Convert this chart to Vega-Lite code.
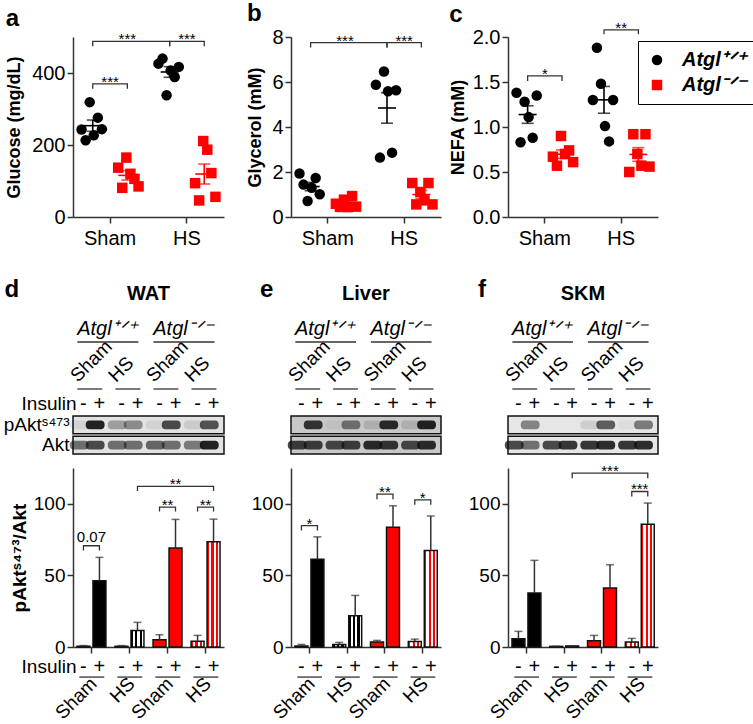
{
"$schema": "https://vega.github.io/schema/vega-lite/v6.json",
"padding": {"left": 3, "top": 2, "right": 0, "bottom": 0},
"config": {
  "font": "Liberation Sans",
  "view": {"stroke": null},
  "axis": {"domainColor": "#333", "domainWidth": 1.5, "tickColor": "#333", "tickWidth": 1.5, "tickSize": 6, "labelColor": "#000", "labelFontSize": 20, "labelPadding": 2, "titleFontSize": 18, "titleFontWeight": "bold", "titleColor": "#000", "grid": false, "labelFont": "Liberation Sans", "titleFont": "Liberation Sans"},
  "text": {"font": "Liberation Sans", "color": "#000"},
  "title": {"font": "Liberation Sans", "color": "#000"}
},
"datasets": {
  "pts": [
    {"p":"a","cond":"Sham","geno":"WT","aid":"WT1","v":243},{"p":"a","cond":"Sham","geno":"WT","aid":"WT2","v":213},{"p":"a","cond":"Sham","geno":"WT","aid":"WT3","v":319},{"p":"a","cond":"Sham","geno":"WT","aid":"WT4","v":227},{"p":"a","cond":"Sham","geno":"WT","aid":"WT5","v":276},{"p":"a","cond":"Sham","geno":"WT","aid":"WT6","v":244},
    {"p":"a","cond":"Sham","geno":"KO","aid":"KO1","v":137},{"p":"a","cond":"Sham","geno":"KO","aid":"KO2","v":81},{"p":"a","cond":"Sham","geno":"KO","aid":"KO3","v":165},{"p":"a","cond":"Sham","geno":"KO","aid":"KO4","v":120},{"p":"a","cond":"Sham","geno":"KO","aid":"KO5","v":106},{"p":"a","cond":"Sham","geno":"KO","aid":"KO6","v":85},
    {"p":"a","cond":"HS","geno":"WT","aid":"WT1","v":426},{"p":"a","cond":"HS","geno":"WT","aid":"WT2","v":440},{"p":"a","cond":"HS","geno":"WT","aid":"WT3","v":338},{"p":"a","cond":"HS","geno":"WT","aid":"WT4","v":407},{"p":"a","cond":"HS","geno":"WT","aid":"WT5","v":389},{"p":"a","cond":"HS","geno":"WT","aid":"WT6","v":417},
    {"p":"a","cond":"HS","geno":"KO","aid":"KO1","v":94},{"p":"a","cond":"HS","geno":"KO","aid":"KO2","v":46},{"p":"a","cond":"HS","geno":"KO","aid":"KO3","v":211},{"p":"a","cond":"HS","geno":"KO","aid":"KO4","v":187},{"p":"a","cond":"HS","geno":"KO","aid":"KO5","v":122},{"p":"a","cond":"HS","geno":"KO","aid":"KO6","v":56},
    {"p":"b","cond":"Sham","geno":"WT","aid":"WT1","v":1.93},{"p":"b","cond":"Sham","geno":"WT","aid":"WT2","v":1.44},{"p":"b","cond":"Sham","geno":"WT","aid":"WT3","v":0.71},{"p":"b","cond":"Sham","geno":"WT","aid":"WT4","v":1.30},{"p":"b","cond":"Sham","geno":"WT","aid":"WT5","v":1.73},{"p":"b","cond":"Sham","geno":"WT","aid":"WT6","v":1.01},
    {"p":"b","cond":"Sham","geno":"KO","aid":"KO1","v":0.59},{"p":"b","cond":"Sham","geno":"KO","aid":"KO2","v":0.45},{"p":"b","cond":"Sham","geno":"KO","aid":"KO3","v":0.77},{"p":"b","cond":"Sham","geno":"KO","aid":"KO4","v":0.44},{"p":"b","cond":"Sham","geno":"KO","aid":"KO5","v":0.93},{"p":"b","cond":"Sham","geno":"KO","aid":"KO6","v":0.46},
    {"p":"b","cond":"HS","geno":"WT","aid":"WT1","v":5.88},{"p":"b","cond":"HS","geno":"WT","aid":"WT2","v":2.64},{"p":"b","cond":"HS","geno":"WT","aid":"WT3","v":6.47},{"p":"b","cond":"HS","geno":"WT","aid":"WT4","v":5.59},{"p":"b","cond":"HS","geno":"WT","aid":"WT5","v":2.86},{"p":"b","cond":"HS","geno":"WT","aid":"WT6","v":5.63},
    {"p":"b","cond":"HS","geno":"KO","aid":"KO1","v":1.51},{"p":"b","cond":"HS","geno":"KO","aid":"KO2","v":0.56},{"p":"b","cond":"HS","geno":"KO","aid":"KO3","v":1.11},{"p":"b","cond":"HS","geno":"KO","aid":"KO4","v":0.74},{"p":"b","cond":"HS","geno":"KO","aid":"KO5","v":1.51},{"p":"b","cond":"HS","geno":"KO","aid":"KO6","v":0.56},
    {"p":"c","cond":"Sham","geno":"WT","aid":"WT1","v":1.38},{"p":"c","cond":"Sham","geno":"WT","aid":"WT2","v":0.83},{"p":"c","cond":"Sham","geno":"WT","aid":"WT3","v":1.28},{"p":"c","cond":"Sham","geno":"WT","aid":"WT4","v":1.11},{"p":"c","cond":"Sham","geno":"WT","aid":"WT5","v":0.88},{"p":"c","cond":"Sham","geno":"WT","aid":"WT6","v":1.35},
    {"p":"c","cond":"Sham","geno":"KO","aid":"KO1","v":0.67},{"p":"c","cond":"Sham","geno":"KO","aid":"KO2","v":0.57},{"p":"c","cond":"Sham","geno":"KO","aid":"KO3","v":0.90},{"p":"c","cond":"Sham","geno":"KO","aid":"KO4","v":0.70},{"p":"c","cond":"Sham","geno":"KO","aid":"KO5","v":0.74},{"p":"c","cond":"Sham","geno":"KO","aid":"KO6","v":0.61},
    {"p":"c","cond":"HS","geno":"WT","aid":"WT1","v":1.30},{"p":"c","cond":"HS","geno":"WT","aid":"WT2","v":1.88},{"p":"c","cond":"HS","geno":"WT","aid":"WT3","v":1.48},{"p":"c","cond":"HS","geno":"WT","aid":"WT4","v":1.01},{"p":"c","cond":"HS","geno":"WT","aid":"WT5","v":0.84},{"p":"c","cond":"HS","geno":"WT","aid":"WT6","v":1.30},
    {"p":"c","cond":"HS","geno":"KO","aid":"KO1","v":0.50},{"p":"c","cond":"HS","geno":"KO","aid":"KO2","v":0.92},{"p":"c","cond":"HS","geno":"KO","aid":"KO3","v":0.70},{"p":"c","cond":"HS","geno":"KO","aid":"KO4","v":0.57},{"p":"c","cond":"HS","geno":"KO","aid":"KO5","v":0.92},{"p":"c","cond":"HS","geno":"KO","aid":"KO6","v":0.56}
  ],
  "tbrk": [
    {"p":"a","id":"a1","cond":"Sham","geno":"WT","y":474,"o":1},{"p":"a","id":"a1","cond":"Sham","geno":"WT","y":488,"o":2},{"p":"a","id":"a1","cond":"HS","geno":"WT","y":488,"o":3},{"p":"a","id":"a1","cond":"HS","geno":"WT","y":474,"o":4},
    {"p":"a","id":"a2","cond":"HS","geno":"WT","y":474,"o":1},{"p":"a","id":"a2","cond":"HS","geno":"WT","y":488,"o":2},{"p":"a","id":"a2","cond":"HS","geno":"KO","y":488,"o":3},{"p":"a","id":"a2","cond":"HS","geno":"KO","y":474,"o":4},
    {"p":"a","id":"a3","cond":"Sham","geno":"WT","y":356,"o":1},{"p":"a","id":"a3","cond":"Sham","geno":"WT","y":370,"o":2},{"p":"a","id":"a3","cond":"Sham","geno":"KO","y":370,"o":3},{"p":"a","id":"a3","cond":"Sham","geno":"KO","y":356,"o":4},
    {"p":"b","id":"b1","cond":"Sham","geno":"WT","y":7.53,"o":1},{"p":"b","id":"b1","cond":"Sham","geno":"WT","y":7.75,"o":2},{"p":"b","id":"b1","cond":"HS","geno":"WT","y":7.75,"o":3},{"p":"b","id":"b1","cond":"HS","geno":"WT","y":7.53,"o":4},
    {"p":"b","id":"b2","cond":"HS","geno":"WT","y":7.53,"o":1},{"p":"b","id":"b2","cond":"HS","geno":"WT","y":7.75,"o":2},{"p":"b","id":"b2","cond":"HS","geno":"KO","y":7.75,"o":3},{"p":"b","id":"b2","cond":"HS","geno":"KO","y":7.53,"o":4},
    {"p":"c","id":"c1","cond":"Sham","geno":"WT","y":1.51,"o":1},{"p":"c","id":"c1","cond":"Sham","geno":"WT","y":1.567,"o":2},{"p":"c","id":"c1","cond":"Sham","geno":"KO","y":1.567,"o":3},{"p":"c","id":"c1","cond":"Sham","geno":"KO","y":1.51,"o":4},
    {"p":"c","id":"c2","cond":"HS","geno":"WT","y":2.03,"o":1},{"p":"c","id":"c2","cond":"HS","geno":"WT","y":2.08,"o":2},{"p":"c","id":"c2","cond":"HS","geno":"KO","y":2.08,"o":3},{"p":"c","id":"c2","cond":"HS","geno":"KO","y":2.03,"o":4}
  ],
  "tsig": [
    {"p":"a","k":"o","cond":"Sham","geno":"KO","y":488,"t":"***"},{"p":"a","k":"c","cond":"HS","y":488,"t":"***"},{"p":"a","k":"c","cond":"Sham","y":370,"t":"***"},
    {"p":"b","k":"o","cond":"Sham","geno":"KO","y":7.75,"t":"***"},{"p":"b","k":"c","cond":"HS","y":7.75,"t":"***"},
    {"p":"c","k":"c","cond":"Sham","y":1.567,"t":"*"},{"p":"c","k":"c","cond":"HS","y":2.08,"t":"**"}
  ],
  "bars": [
    {"p":"d","grp":"WT Sham","ins":"-","m":0.5,"hi":1.0},{"p":"d","grp":"WT Sham","ins":"+","m":46.3,"hi":62.6},{"p":"d","grp":"WT HS","ins":"-","m":0.5,"hi":1.0},{"p":"d","grp":"WT HS","ins":"+","m":11.6,"hi":17.2},
    {"p":"d","grp":"KO Sham","ins":"-","m":5.1,"hi":8.6},{"p":"d","grp":"KO Sham","ins":"+","m":69.1,"hi":89.1},{"p":"d","grp":"KO HS","ins":"-","m":4.0,"hi":8.1},{"p":"d","grp":"KO HS","ins":"+","m":73.5,"hi":89.3},
    {"p":"e","grp":"WT Sham","ins":"-","m":0.7,"hi":1.8},{"p":"e","grp":"WT Sham","ins":"+","m":61.2,"hi":76.9},{"p":"e","grp":"WT HS","ins":"-","m":1.8,"hi":3.2},{"p":"e","grp":"WT HS","ins":"+","m":21.9,"hi":36.0},
    {"p":"e","grp":"KO Sham","ins":"-","m":3.5,"hi":4.6},{"p":"e","grp":"KO Sham","ins":"+","m":83.6,"hi":98.6},{"p":"e","grp":"KO HS","ins":"-","m":3.9,"hi":5.5},{"p":"e","grp":"KO HS","ins":"+","m":67.4,"hi":91.5},
    {"p":"f","grp":"WT Sham","ins":"-","m":5.8,"hi":10.9},{"p":"f","grp":"WT Sham","ins":"+","m":37.7,"hi":60.5},{"p":"f","grp":"WT HS","ins":"-","m":0.4,"hi":0.6},{"p":"f","grp":"WT HS","ins":"+","m":0.7,"hi":0.9},
    {"p":"f","grp":"KO Sham","ins":"-","m":4.4,"hi":8.1},{"p":"f","grp":"KO Sham","ins":"+","m":41.2,"hi":57.4},{"p":"f","grp":"KO HS","ins":"-","m":3.5,"hi":6.0},{"p":"f","grp":"KO HS","ins":"+","m":85.8,"hi":100.5}
  ],
  "bbrk": [
    {"p":"d","id":"d1","grp":"WT Sham","ins":"-","y":67.4,"o":1},{"p":"d","id":"d1","grp":"WT Sham","ins":"-","y":70.7,"o":2},{"p":"d","id":"d1","grp":"WT Sham","ins":"+","y":70.7,"o":3},{"p":"d","id":"d1","grp":"WT Sham","ins":"+","y":67.4,"o":4},
    {"p":"d","id":"d2","grp":"KO Sham","ins":"-","y":94.7,"o":1},{"p":"d","id":"d2","grp":"KO Sham","ins":"-","y":97.7,"o":2},{"p":"d","id":"d2","grp":"KO Sham","ins":"+","y":97.7,"o":3},{"p":"d","id":"d2","grp":"KO Sham","ins":"+","y":94.7,"o":4},
    {"p":"d","id":"d3","grp":"KO HS","ins":"-","y":94.7,"o":1},{"p":"d","id":"d3","grp":"KO HS","ins":"-","y":97.7,"o":2},{"p":"d","id":"d3","grp":"KO HS","ins":"+","y":97.7,"o":3},{"p":"d","id":"d3","grp":"KO HS","ins":"+","y":94.7,"o":4},
    {"p":"d","id":"d4","grp":"WT HS","ins":"+","y":109,"o":1},{"p":"d","id":"d4","grp":"WT HS","ins":"+","y":112.1,"o":2},{"p":"d","id":"d4","grp":"KO HS","ins":"+","y":112.1,"o":3},{"p":"d","id":"d4","grp":"KO HS","ins":"+","y":109,"o":4},
    {"p":"e","id":"e1","grp":"WT Sham","ins":"-","y":81.3,"o":1},{"p":"e","id":"e1","grp":"WT Sham","ins":"-","y":84.8,"o":2},{"p":"e","id":"e1","grp":"WT Sham","ins":"+","y":84.8,"o":3},{"p":"e","id":"e1","grp":"WT Sham","ins":"+","y":81.3,"o":4},
    {"p":"e","id":"e2","grp":"KO Sham","ins":"-","y":103.2,"o":1},{"p":"e","id":"e2","grp":"KO Sham","ins":"-","y":106.7,"o":2},{"p":"e","id":"e2","grp":"KO Sham","ins":"+","y":106.7,"o":3},{"p":"e","id":"e2","grp":"KO Sham","ins":"+","y":103.2,"o":4},
    {"p":"e","id":"e3","grp":"KO HS","ins":"-","y":99.3,"o":1},{"p":"e","id":"e3","grp":"KO HS","ins":"-","y":102.8,"o":2},{"p":"e","id":"e3","grp":"KO HS","ins":"+","y":102.8,"o":3},{"p":"e","id":"e3","grp":"KO HS","ins":"+","y":99.3,"o":4},
    {"p":"f","id":"f1","grp":"KO HS","ins":"-","y":105.1,"o":1},{"p":"f","id":"f1","grp":"KO HS","ins":"-","y":108.6,"o":2},{"p":"f","id":"f1","grp":"KO HS","ins":"+","y":108.6,"o":3},{"p":"f","id":"f1","grp":"KO HS","ins":"+","y":105.1,"o":4},
    {"p":"f","id":"f2","grp":"WT HS","ins":"+","y":117.9,"o":1},{"p":"f","id":"f2","grp":"WT HS","ins":"+","y":121.4,"o":2},{"p":"f","id":"f2","grp":"KO HS","ins":"+","y":121.4,"o":3},{"p":"f","id":"f2","grp":"KO HS","ins":"+","y":117.9,"o":4}
  ],
  "bsig": [
    {"p":"d","k":"n","grp":"WT Sham","y":70.7,"t":"0.07"},{"p":"d","k":"c","grp":"KO Sham","y":97.7,"t":"**"},{"p":"d","k":"c","grp":"KO HS","y":97.7,"t":"**"},{"p":"d","k":"o","grp":"KO Sham","ins":"+","y":112.1,"t":"**"},
    {"p":"e","k":"c","grp":"WT Sham","y":84.8,"t":"*"},{"p":"e","k":"c","grp":"KO Sham","y":106.7,"t":"**"},{"p":"e","k":"c","grp":"KO HS","y":102.8,"t":"*"},
    {"p":"f","k":"c","grp":"KO HS","y":108.6,"t":"***"},{"p":"f","k":"o","grp":"KO Sham","ins":"+","y":121.4,"t":"***"}
  ],
  "blot": [
    {"p":"d","prot":"pAkt","grp":"WT Sham","ins":"-","dens":0.08},{"p":"d","prot":"pAkt","grp":"WT Sham","ins":"+","dens":1.0},{"p":"d","prot":"pAkt","grp":"WT HS","ins":"-","dens":0.35},{"p":"d","prot":"pAkt","grp":"WT HS","ins":"+","dens":0.45},
    {"p":"d","prot":"pAkt","grp":"KO Sham","ins":"-","dens":0.08},{"p":"d","prot":"pAkt","grp":"KO Sham","ins":"+","dens":0.8},{"p":"d","prot":"pAkt","grp":"KO HS","ins":"-","dens":0.12},{"p":"d","prot":"pAkt","grp":"KO HS","ins":"+","dens":0.75},
    {"p":"d","prot":"Akt","grp":"WT Sham","ins":"-","dens":0.6},{"p":"d","prot":"Akt","grp":"WT Sham","ins":"+","dens":0.8},{"p":"d","prot":"Akt","grp":"WT HS","ins":"-","dens":0.6},{"p":"d","prot":"Akt","grp":"WT HS","ins":"+","dens":0.6},
    {"p":"d","prot":"Akt","grp":"KO Sham","ins":"-","dens":0.65},{"p":"d","prot":"Akt","grp":"KO Sham","ins":"+","dens":0.6},{"p":"d","prot":"Akt","grp":"KO HS","ins":"-","dens":0.55},{"p":"d","prot":"Akt","grp":"KO HS","ins":"+","dens":1.0},
    {"p":"e","prot":"pAkt","grp":"WT Sham","ins":"-","dens":0.0},{"p":"e","prot":"pAkt","grp":"WT Sham","ins":"+","dens":0.9},{"p":"e","prot":"pAkt","grp":"WT HS","ins":"-","dens":0.05},{"p":"e","prot":"pAkt","grp":"WT HS","ins":"+","dens":0.55},
    {"p":"e","prot":"pAkt","grp":"KO Sham","ins":"-","dens":0.15},{"p":"e","prot":"pAkt","grp":"KO Sham","ins":"+","dens":0.95},{"p":"e","prot":"pAkt","grp":"KO HS","ins":"-","dens":0.15},{"p":"e","prot":"pAkt","grp":"KO HS","ins":"+","dens":1.0},
    {"p":"e","prot":"Akt","grp":"WT Sham","ins":"-","dens":0.85},{"p":"e","prot":"Akt","grp":"WT Sham","ins":"+","dens":0.85},{"p":"e","prot":"Akt","grp":"WT HS","ins":"-","dens":0.8},{"p":"e","prot":"Akt","grp":"WT HS","ins":"+","dens":0.85},
    {"p":"e","prot":"Akt","grp":"KO Sham","ins":"-","dens":0.95},{"p":"e","prot":"Akt","grp":"KO Sham","ins":"+","dens":0.9},{"p":"e","prot":"Akt","grp":"KO HS","ins":"-","dens":0.8},{"p":"e","prot":"Akt","grp":"KO HS","ins":"+","dens":0.95},
    {"p":"f","prot":"pAkt","grp":"WT Sham","ins":"-","dens":0.0},{"p":"f","prot":"pAkt","grp":"WT Sham","ins":"+","dens":0.5},{"p":"f","prot":"pAkt","grp":"WT HS","ins":"-","dens":0.0},{"p":"f","prot":"pAkt","grp":"WT HS","ins":"+","dens":0.0},
    {"p":"f","prot":"pAkt","grp":"KO Sham","ins":"-","dens":0.12},{"p":"f","prot":"pAkt","grp":"KO Sham","ins":"+","dens":0.7},{"p":"f","prot":"pAkt","grp":"KO HS","ins":"-","dens":0.05},{"p":"f","prot":"pAkt","grp":"KO HS","ins":"+","dens":0.55},
    {"p":"f","prot":"Akt","grp":"WT Sham","ins":"-","dens":0.8},{"p":"f","prot":"Akt","grp":"WT Sham","ins":"+","dens":0.6},{"p":"f","prot":"Akt","grp":"WT HS","ins":"-","dens":0.8},{"p":"f","prot":"Akt","grp":"WT HS","ins":"+","dens":0.9},
    {"p":"f","prot":"Akt","grp":"KO Sham","ins":"-","dens":0.9},{"p":"f","prot":"Akt","grp":"KO Sham","ins":"+","dens":0.95},{"p":"f","prot":"Akt","grp":"KO HS","ins":"-","dens":0.9},{"p":"f","prot":"Akt","grp":"KO HS","ins":"+","dens":0.95}
  ],
  "grps": [{"grp":"WT Sham","c":"Sham"},{"grp":"WT HS","c":"HS"},{"grp":"KO Sham","c":"Sham"},{"grp":"KO HS","c":"HS"}],
  "genos": [{"g1":"WT Sham","g2":"WT HS","t":"Atgl⁺ᐟ⁺"},{"g1":"KO Sham","g2":"KO HS","t":"Atgl⁻ᐟ⁻"}]
},
"resolve": {"scale": {"color": "independent", "shape": "independent", "opacity": "independent"}, "legend": {"color": "independent", "shape": "independent", "opacity": "independent"}},
"columns": 3,
"bounds": "flush",
"align": "each",
"spacing": {"row": 14, "column": 67},
"concat": [
  {
    "width": 151, "height": 180,
    "title": {"text": "a", "anchor": "start", "frame": "bounds", "fontSize": 24, "fontWeight": "bold", "offset": 1},
    "resolve": {"scale": {"xOffset": "independent"}},
    "layer": [
      {"data": {"name": "tbrk"}, "transform": [{"filter": "datum.p=='a'"}],
       "mark": {"type": "line", "color": "#333", "strokeWidth": 1.3, "strokeJoin": "miter"},
       "encoding": {
         "x": {"field": "cond", "type": "nominal", "scale": {"domain": ["Sham","HS"], "paddingInner": 0.1, "paddingOuter": 0.032}, "axis": {"title": null, "labelAngle": 0, "labelPadding": 5}},
         "xOffset": {"field": "geno", "type": "nominal", "scale": {"type": "band", "domain": ["WT","KO"], "paddingInner": 0, "paddingOuter": 0}},
         "y": {"field": "y", "type": "quantitative", "title": "Glucose (mg/dL)", "scale": {"domain": [0,500], "nice": false}, "axis": {"values": [0,100,200,300,400,500], "titlePadding": 8}},
         "detail": {"field": "id", "type": "nominal"},
         "order": {"field": "o", "type": "quantitative"}}},
      {"data": {"name": "pts"}, "transform": [{"filter": "datum.p=='a'"}],
       "mark": {"type": "point", "filled": true, "size": 110, "opacity": 1},
       "encoding": {
         "x": {"field": "cond", "type": "nominal", "title": null},
         "xOffset": {"field": "aid", "type": "nominal", "scale": {"type": "band", "domain": ["WT1","WT2","WT3","WT4","WT5","WT6","m1","m2","m3","KO1","KO2","KO3","KO4","KO5","KO6"], "paddingInner": 0, "paddingOuter": 2}},
         "y": {"field": "v", "type": "quantitative", "title": "Glucose (mg/dL)"},
         "color": {"field": "geno", "type": "nominal", "scale": {"domain": ["WT","KO"], "range": ["#000000","#ff0000"]}, "legend": null},
         "shape": {"field": "geno", "type": "nominal", "scale": {"domain": ["WT","KO"], "range": ["circle","square"]}, "legend": null}}},
      {"data": {"name": "pts"}, "transform": [{"filter": "datum.p=='a'"}],
       "mark": {"type": "errorbar", "extent": "stderr", "ticks": {"size": 12}, "thickness": 1.6},
       "encoding": {
         "x": {"field": "cond", "type": "nominal", "title": null},
         "xOffset": {"field": "geno", "type": "nominal", "scale": {"type": "band", "domain": ["WT","KO"], "paddingInner": 0, "paddingOuter": 0}},
         "y": {"field": "v", "type": "quantitative", "title": "Glucose (mg/dL)"},
         "color": {"condition": {"test": "datum.geno=='WT'", "value": "#000000"}, "value": "#ff0000"}}},
      {"data": {"name": "pts"}, "transform": [{"filter": "datum.p=='a'"}],
       "mark": {"type": "tick", "size": 18, "thickness": 1.6},
       "encoding": {
         "x": {"field": "cond", "type": "nominal", "title": null},
         "xOffset": {"field": "geno", "type": "nominal", "scale": {"type": "band", "domain": ["WT","KO"], "paddingInner": 0, "paddingOuter": 0}},
         "y": {"aggregate": "mean", "field": "v", "type": "quantitative", "title": "Glucose (mg/dL)"},
         "color": {"condition": {"test": "datum.geno=='WT'", "value": "#000000"}, "value": "#ff0000"}}},
      {"data": {"name": "tsig"}, "transform": [{"filter": "datum.p=='a' && datum.k=='c'"}],
       "mark": {"type": "text", "fontSize": 15, "baseline": "alphabetic", "dy": 3},
       "encoding": {
         "x": {"field": "cond", "type": "nominal", "title": null},
         "y": {"field": "y", "type": "quantitative", "title": "Glucose (mg/dL)"},
         "text": {"field": "t"}}},
      {"data": {"name": "tsig"}, "transform": [{"filter": "datum.p=='a' && datum.k=='o'"}],
       "mark": {"type": "text", "fontSize": 15, "baseline": "alphabetic", "dy": 3},
       "encoding": {
         "x": {"field": "cond", "type": "nominal", "title": null},
         "xOffset": {"field": "geno", "type": "nominal", "scale": {"type": "band", "domain": ["WT","KO"], "paddingInner": 0, "paddingOuter": 0}},
         "y": {"field": "y", "type": "quantitative", "title": "Glucose (mg/dL)"},
         "text": {"field": "t"}}}
    ]
  },
  {
    "width": 150, "height": 180,
    "title": {"text": "b", "anchor": "start", "frame": "bounds", "fontSize": 24, "fontWeight": "bold", "offset": 1},
    "resolve": {"scale": {"xOffset": "independent"}},
    "layer": [
      {"data": {"name": "tbrk"}, "transform": [{"filter": "datum.p=='b'"}],
       "mark": {"type": "line", "color": "#333", "strokeWidth": 1.3, "strokeJoin": "miter"},
       "encoding": {
         "x": {"field": "cond", "type": "nominal", "scale": {"domain": ["Sham","HS"], "paddingInner": 0.1, "paddingOuter": 0.032}, "axis": {"title": null, "labelAngle": 0, "labelPadding": 5}},
         "xOffset": {"field": "geno", "type": "nominal", "scale": {"type": "band", "domain": ["WT","KO"], "paddingInner": 0, "paddingOuter": 0}},
         "y": {"field": "y", "type": "quantitative", "title": "Glycerol (mM)", "scale": {"domain": [0,8], "nice": false}, "axis": {"values": [0,2,4,6,8], "titlePadding": 7}},
         "detail": {"field": "id", "type": "nominal"},
         "order": {"field": "o", "type": "quantitative"}}},
      {"data": {"name": "pts"}, "transform": [{"filter": "datum.p=='b'"}],
       "mark": {"type": "point", "filled": true, "size": 110, "opacity": 1},
       "encoding": {
         "x": {"field": "cond", "type": "nominal", "title": null},
         "xOffset": {"field": "aid", "type": "nominal", "scale": {"type": "band", "domain": ["WT1","WT2","WT3","WT4","WT5","WT6","m1","m2","m3","KO1","KO2","KO3","KO4","KO5","KO6"], "paddingInner": 0, "paddingOuter": 2}},
         "y": {"field": "v", "type": "quantitative", "title": "Glycerol (mM)"},
         "color": {"field": "geno", "type": "nominal", "scale": {"domain": ["WT","KO"], "range": ["#000000","#ff0000"]}, "legend": null},
         "shape": {"field": "geno", "type": "nominal", "scale": {"domain": ["WT","KO"], "range": ["circle","square"]}, "legend": null}}},
      {"data": {"name": "pts"}, "transform": [{"filter": "datum.p=='b'"}],
       "mark": {"type": "errorbar", "extent": "stderr", "ticks": {"size": 12}, "thickness": 1.6},
       "encoding": {
         "x": {"field": "cond", "type": "nominal", "title": null},
         "xOffset": {"field": "geno", "type": "nominal", "scale": {"type": "band", "domain": ["WT","KO"], "paddingInner": 0, "paddingOuter": 0}},
         "y": {"field": "v", "type": "quantitative", "title": "Glycerol (mM)"},
         "color": {"condition": {"test": "datum.geno=='WT'", "value": "#000000"}, "value": "#ff0000"}}},
      {"data": {"name": "pts"}, "transform": [{"filter": "datum.p=='b'"}],
       "mark": {"type": "tick", "size": 18, "thickness": 1.6},
       "encoding": {
         "x": {"field": "cond", "type": "nominal", "title": null},
         "xOffset": {"field": "geno", "type": "nominal", "scale": {"type": "band", "domain": ["WT","KO"], "paddingInner": 0, "paddingOuter": 0}},
         "y": {"aggregate": "mean", "field": "v", "type": "quantitative", "title": "Glycerol (mM)"},
         "color": {"condition": {"test": "datum.geno=='WT'", "value": "#000000"}, "value": "#ff0000"}}},
      {"data": {"name": "tsig"}, "transform": [{"filter": "datum.p=='b' && datum.k=='c'"}],
       "mark": {"type": "text", "fontSize": 15, "baseline": "alphabetic", "dy": 3},
       "encoding": {
         "x": {"field": "cond", "type": "nominal", "title": null},
         "y": {"field": "y", "type": "quantitative", "title": "Glycerol (mM)"},
         "text": {"field": "t"}}},
      {"data": {"name": "tsig"}, "transform": [{"filter": "datum.p=='b' && datum.k=='o'"}],
       "mark": {"type": "text", "fontSize": 15, "baseline": "alphabetic", "dy": 3},
       "encoding": {
         "x": {"field": "cond", "type": "nominal", "title": null},
         "xOffset": {"field": "geno", "type": "nominal", "scale": {"type": "band", "domain": ["WT","KO"], "paddingInner": 0, "paddingOuter": 0}},
         "y": {"field": "y", "type": "quantitative", "title": "Glycerol (mM)"},
         "text": {"field": "t"}}}
    ]
  },
  {
    "width": 150, "height": 180,
    "title": {"text": "c", "anchor": "start", "frame": "bounds", "fontSize": 24, "fontWeight": "bold", "offset": -6},
    "resolve": {"scale": {"xOffset": "independent"}},
    "layer": [
      {"data": {"name": "tbrk"}, "transform": [{"filter": "datum.p=='c'"}],
       "mark": {"type": "line", "color": "#333", "strokeWidth": 1.3, "strokeJoin": "miter"},
       "encoding": {
         "x": {"field": "cond", "type": "nominal", "scale": {"domain": ["Sham","HS"], "paddingInner": 0.1, "paddingOuter": 0.032}, "axis": {"title": null, "labelAngle": 0, "labelPadding": 5}},
         "xOffset": {"field": "geno", "type": "nominal", "scale": {"type": "band", "domain": ["WT","KO"], "paddingInner": 0, "paddingOuter": 0}},
         "y": {"field": "y", "type": "quantitative", "title": "NEFA (mM)", "scale": {"domain": [0,2], "nice": false}, "axis": {"values": [0,0.5,1,1.5,2], "format": ".1f", "titlePadding": 5}},
         "detail": {"field": "id", "type": "nominal"},
         "order": {"field": "o", "type": "quantitative"}}},
      {"data": {"name": "pts"}, "transform": [{"filter": "datum.p=='c'"}],
       "mark": {"type": "point", "filled": true, "size": 110, "opacity": 1},
       "encoding": {
         "x": {"field": "cond", "type": "nominal", "title": null},
         "xOffset": {"field": "aid", "type": "nominal", "scale": {"type": "band", "domain": ["WT1","WT2","WT3","WT4","WT5","WT6","m1","m2","m3","KO1","KO2","KO3","KO4","KO5","KO6"], "paddingInner": 0, "paddingOuter": 2}},
         "y": {"field": "v", "type": "quantitative", "title": "NEFA (mM)"},
         "color": {"field": "geno", "type": "nominal", "scale": {"domain": ["WT","KO"], "range": ["#000000","#ff0000"]},
           "legend": {"orient": "none", "legendX": 130, "legendY": 4, "title": null, "strokeColor": "#000", "padding": 9, "symbolSize": 110, "symbolOffset": 0, "labelFontSize": 20, "labelFontWeight": "bold", "labelFontStyle": "italic", "labelOffset": 15, "rowPadding": 5, "labelLimit": 200, "labelExpr": "datum.value=='WT' ? 'Atgl⁺ᐟ⁺' : 'Atgl⁻ᐟ⁻'", "encode": {"legend": {"update": {"strokeWidth": {"value": 2}}}}}},
         "shape": {"field": "geno", "type": "nominal", "scale": {"domain": ["WT","KO"], "range": ["circle","square"]},
           "legend": {"orient": "none", "legendX": 130, "legendY": 4, "title": null, "strokeColor": "#000", "padding": 9, "symbolSize": 110, "symbolOffset": 0, "labelFontSize": 20, "labelFontWeight": "bold", "labelFontStyle": "italic", "labelOffset": 15, "rowPadding": 5, "labelLimit": 200, "labelExpr": "datum.value=='WT' ? 'Atgl⁺ᐟ⁺' : 'Atgl⁻ᐟ⁻'", "encode": {"legend": {"update": {"strokeWidth": {"value": 2}}}}}}}},
      {"data": {"name": "pts"}, "transform": [{"filter": "datum.p=='c'"}],
       "mark": {"type": "errorbar", "extent": "stderr", "ticks": {"size": 12}, "thickness": 1.6},
       "encoding": {
         "x": {"field": "cond", "type": "nominal", "title": null},
         "xOffset": {"field": "geno", "type": "nominal", "scale": {"type": "band", "domain": ["WT","KO"], "paddingInner": 0, "paddingOuter": 0}},
         "y": {"field": "v", "type": "quantitative", "title": "NEFA (mM)"},
         "color": {"condition": {"test": "datum.geno=='WT'", "value": "#000000"}, "value": "#ff0000"}}},
      {"data": {"name": "pts"}, "transform": [{"filter": "datum.p=='c'"}],
       "mark": {"type": "tick", "size": 18, "thickness": 1.6},
       "encoding": {
         "x": {"field": "cond", "type": "nominal", "title": null},
         "xOffset": {"field": "geno", "type": "nominal", "scale": {"type": "band", "domain": ["WT","KO"], "paddingInner": 0, "paddingOuter": 0}},
         "y": {"aggregate": "mean", "field": "v", "type": "quantitative", "title": "NEFA (mM)"},
         "color": {"condition": {"test": "datum.geno=='WT'", "value": "#000000"}, "value": "#ff0000"}}},
      {"data": {"name": "tsig"}, "transform": [{"filter": "datum.p=='c' && datum.k=='c'"}],
       "mark": {"type": "text", "fontSize": 15, "baseline": "alphabetic", "dy": 3},
       "encoding": {
         "x": {"field": "cond", "type": "nominal", "title": null},
         "y": {"field": "y", "type": "quantitative", "title": "NEFA (mM)"},
         "text": {"field": "t"}}}
    ]
  },
  {
    "width": 151, "height": 171,
    "layer": [
      {"data": {"name": "grps"}, "transform": [{"filter": "datum.grp=='WT Sham'"}],
       "mark": {"type": "text", "text": "d", "fontSize": 24, "fontWeight": "bold", "align": "left", "baseline": "alphabetic", "dx": -71},
       "encoding": {"x": {"field": "grp", "type": "nominal", "bandPosition": 0, "scale": {"domain": ["WT Sham","WT HS","KO Sham","KO HS"], "paddingInner": 0.16, "paddingOuter": 0.065}, "axis": null},
                    "y": {"datum": 66, "type": "quantitative", "scale": {"domain": [0,171], "reverse": true, "nice": false, "zero": false}, "axis": null}}},
      {"data": {"values": [{}]},
       "mark": {"type": "text", "text": "WAT", "fontSize": 20, "fontWeight": "bold", "baseline": "alphabetic"},
       "encoding": {"y": {"datum": 69, "type": "quantitative", "axis": null}}},
      {"data": {"name": "genos"},
       "mark": {"type": "text", "fontSize": 20, "fontStyle": "italic", "baseline": "alphabetic"},
       "encoding": {"x": {"field": "g1", "type": "nominal", "bandPosition": 1, "axis": null}, "y": {"datum": 104, "type": "quantitative", "axis": null}, "text": {"field": "t"}}},
      {"data": {"name": "genos"},
       "mark": {"type": "rule", "color": "#333", "strokeWidth": 1.3},
       "encoding": {"x": {"field": "g1", "type": "nominal", "bandPosition": 0.06, "axis": null}, "x2": {"field": "g2", "bandPosition": 0.78}, "y": {"datum": 111, "type": "quantitative", "axis": null}}},
      {"data": {"name": "grps"},
       "mark": {"type": "text", "fontSize": 19, "angle": 315, "align": "left", "baseline": "alphabetic"},
       "encoding": {"x": {"field": "grp", "type": "nominal", "bandPosition": 0.08, "axis": null}, "y": {"datum": 152, "type": "quantitative", "axis": null}, "text": {"field": "c"}}},
      {"data": {"name": "grps"},
       "mark": {"type": "rule", "color": "#333", "strokeWidth": 1.3},
       "encoding": {"x": {"field": "grp", "type": "nominal", "bandPosition": 0.06, "axis": null}, "x2": {"field": "grp", "bandPosition": 0.84}, "y": {"datum": 158, "type": "quantitative", "axis": null}}},
      {"data": {"name": "bars"}, "transform": [{"filter": "datum.p=='d'"}],
       "mark": {"type": "text", "fontSize": 20, "baseline": "middle"},
       "encoding": {"x": {"field": "grp", "type": "nominal", "axis": null}, "xOffset": {"field": "ins", "type": "nominal", "scale": {"type": "band", "domain": ["-","+"], "paddingInner": 0.19, "paddingOuter": 0.094}}, "y": {"datum": 173, "type": "quantitative", "axis": null}, "text": {"field": "ins"}}},
      {"data": {"name": "bars"}, "transform": [{"filter": "datum.p=='d' && datum.grp=='WT Sham' && datum.ins=='-'"}],
       "mark": {"type": "text", "text": "Insulin", "fontSize": 19, "baseline": "middle", "align": "right", "dx": -7},
       "encoding": {"x": {"field": "grp", "type": "nominal", "axis": null}, "xOffset": {"field": "ins", "type": "nominal"}, "y": {"datum": 173, "type": "quantitative", "axis": null}}}
    ]
  },
  {
    "width": 150, "height": 171,
    "layer": [
      {"data": {"name": "grps"}, "transform": [{"filter": "datum.grp=='WT Sham'"}],
       "mark": {"type": "text", "text": "e", "fontSize": 24, "fontWeight": "bold", "align": "left", "baseline": "alphabetic", "dx": -33.5},
       "encoding": {"x": {"field": "grp", "type": "nominal", "bandPosition": 0, "scale": {"domain": ["WT Sham","WT HS","KO Sham","KO HS"], "paddingInner": 0.16, "paddingOuter": 0.065}, "axis": null},
                    "y": {"datum": 66, "type": "quantitative", "scale": {"domain": [0,171], "reverse": true, "nice": false, "zero": false}, "axis": null}}},
      {"data": {"values": [{}]},
       "mark": {"type": "text", "text": "Liver", "fontSize": 20, "fontWeight": "bold", "baseline": "alphabetic"},
       "encoding": {"y": {"datum": 69, "type": "quantitative", "axis": null}}},
      {"data": {"name": "genos"},
       "mark": {"type": "text", "fontSize": 20, "fontStyle": "italic", "baseline": "alphabetic"},
       "encoding": {"x": {"field": "g1", "type": "nominal", "bandPosition": 1, "axis": null}, "y": {"datum": 104, "type": "quantitative", "axis": null}, "text": {"field": "t"}}},
      {"data": {"name": "genos"},
       "mark": {"type": "rule", "color": "#333", "strokeWidth": 1.3},
       "encoding": {"x": {"field": "g1", "type": "nominal", "bandPosition": 0.06, "axis": null}, "x2": {"field": "g2", "bandPosition": 0.78}, "y": {"datum": 111, "type": "quantitative", "axis": null}}},
      {"data": {"name": "grps"},
       "mark": {"type": "text", "fontSize": 19, "angle": 315, "align": "left", "baseline": "alphabetic"},
       "encoding": {"x": {"field": "grp", "type": "nominal", "bandPosition": 0.08, "axis": null}, "y": {"datum": 152, "type": "quantitative", "axis": null}, "text": {"field": "c"}}},
      {"data": {"name": "grps"},
       "mark": {"type": "rule", "color": "#333", "strokeWidth": 1.3},
       "encoding": {"x": {"field": "grp", "type": "nominal", "bandPosition": 0.06, "axis": null}, "x2": {"field": "grp", "bandPosition": 0.84}, "y": {"datum": 158, "type": "quantitative", "axis": null}}},
      {"data": {"name": "bars"}, "transform": [{"filter": "datum.p=='e'"}],
       "mark": {"type": "text", "fontSize": 20, "baseline": "middle"},
       "encoding": {"x": {"field": "grp", "type": "nominal", "axis": null}, "xOffset": {"field": "ins", "type": "nominal", "scale": {"type": "band", "domain": ["-","+"], "paddingInner": 0.19, "paddingOuter": 0.094}}, "y": {"datum": 173, "type": "quantitative", "axis": null}, "text": {"field": "ins"}}}
    ]
  },
  {
    "width": 150, "height": 171,
    "layer": [
      {"data": {"name": "grps"}, "transform": [{"filter": "datum.grp=='WT Sham'"}],
       "mark": {"type": "text", "text": "f", "fontSize": 24, "fontWeight": "bold", "align": "left", "baseline": "alphabetic", "dx": -32.5},
       "encoding": {"x": {"field": "grp", "type": "nominal", "bandPosition": 0, "scale": {"domain": ["WT Sham","WT HS","KO Sham","KO HS"], "paddingInner": 0.16, "paddingOuter": 0.065}, "axis": null},
                    "y": {"datum": 66, "type": "quantitative", "scale": {"domain": [0,171], "reverse": true, "nice": false, "zero": false}, "axis": null}}},
      {"data": {"values": [{}]},
       "mark": {"type": "text", "text": "SKM", "fontSize": 20, "fontWeight": "bold", "baseline": "alphabetic"},
       "encoding": {"y": {"datum": 69, "type": "quantitative", "axis": null}}},
      {"data": {"name": "genos"},
       "mark": {"type": "text", "fontSize": 20, "fontStyle": "italic", "baseline": "alphabetic"},
       "encoding": {"x": {"field": "g1", "type": "nominal", "bandPosition": 1, "axis": null}, "y": {"datum": 104, "type": "quantitative", "axis": null}, "text": {"field": "t"}}},
      {"data": {"name": "genos"},
       "mark": {"type": "rule", "color": "#333", "strokeWidth": 1.3},
       "encoding": {"x": {"field": "g1", "type": "nominal", "bandPosition": 0.06, "axis": null}, "x2": {"field": "g2", "bandPosition": 0.78}, "y": {"datum": 111, "type": "quantitative", "axis": null}}},
      {"data": {"name": "grps"},
       "mark": {"type": "text", "fontSize": 19, "angle": 315, "align": "left", "baseline": "alphabetic"},
       "encoding": {"x": {"field": "grp", "type": "nominal", "bandPosition": 0.08, "axis": null}, "y": {"datum": 152, "type": "quantitative", "axis": null}, "text": {"field": "c"}}},
      {"data": {"name": "grps"},
       "mark": {"type": "rule", "color": "#333", "strokeWidth": 1.3},
       "encoding": {"x": {"field": "grp", "type": "nominal", "bandPosition": 0.06, "axis": null}, "x2": {"field": "grp", "bandPosition": 0.84}, "y": {"datum": 158, "type": "quantitative", "axis": null}}},
      {"data": {"name": "bars"}, "transform": [{"filter": "datum.p=='f'"}],
       "mark": {"type": "text", "fontSize": 20, "baseline": "middle"},
       "encoding": {"x": {"field": "grp", "type": "nominal", "axis": null}, "xOffset": {"field": "ins", "type": "nominal", "scale": {"type": "band", "domain": ["-","+"], "paddingInner": 0.19, "paddingOuter": 0.094}}, "y": {"datum": 173, "type": "quantitative", "axis": null}, "text": {"field": "ins"}}}
    ]
  },
  {
    "width": 151, "height": 38,
    "layer": [
      {"data": {"name": "blot"}, "transform": [{"filter": "datum.p=='d' && datum.grp=='WT Sham' && datum.ins=='-'"}],
       "mark": {"type": "rect", "fill": "#e2e2e2", "stroke": "#111", "strokeWidth": 1.5},
       "encoding": {"y": {"field": "prot", "type": "nominal", "scale": {"domain": ["pAkt","Akt"], "paddingInner": 0.12, "paddingOuter": 0}, "axis": {"title": null, "domain": false, "ticks": false, "labelFontSize": 19, "labelPadding": 4, "labelExpr": "datum.value=='pAkt' ? 'pAktˢ⁴⁷³' : 'Akt'"}}}},
      {"data": {"name": "blot"}, "transform": [{"filter": "datum.p=='d'"}],
       "mark": {"type": "rect", "fill": "#111", "cornerRadius": 3.5, "width": {"band": 1.45}, "height": {"band": 0.48}},
       "encoding": {"x": {"field": "grp", "type": "nominal", "scale": {"domain": ["WT Sham","WT HS","KO Sham","KO HS"], "paddingInner": 0.16, "paddingOuter": 0.065}, "axis": null},
                    "xOffset": {"field": "ins", "type": "nominal", "scale": {"type": "band", "domain": ["-","+"], "paddingInner": 0.19, "paddingOuter": 0.094}},
                    "y": {"field": "prot", "type": "nominal", "title": null},
                    "opacity": {"field": "dens", "type": "quantitative", "scale": {"domain": [0,1], "range": [0,0.92]}, "legend": null}}}
    ]
  },
  {
    "width": 150, "height": 38,
    "layer": [
      {"data": {"name": "blot"}, "transform": [{"filter": "datum.p=='e' && datum.grp=='WT Sham' && datum.ins=='-'"}],
       "mark": {"type": "rect", "fill": "#c8c8c8", "stroke": "#111", "strokeWidth": 1.5},
       "encoding": {"y": {"field": "prot", "type": "nominal", "scale": {"domain": ["pAkt","Akt"], "paddingInner": 0.12, "paddingOuter": 0}, "axis": null}}},
      {"data": {"name": "blot"}, "transform": [{"filter": "datum.p=='e'"}],
       "mark": {"type": "rect", "fill": "#111", "cornerRadius": 3.5, "width": {"band": 1.45}, "height": {"band": 0.48}},
       "encoding": {"x": {"field": "grp", "type": "nominal", "scale": {"domain": ["WT Sham","WT HS","KO Sham","KO HS"], "paddingInner": 0.16, "paddingOuter": 0.065}, "axis": null},
                    "xOffset": {"field": "ins", "type": "nominal", "scale": {"type": "band", "domain": ["-","+"], "paddingInner": 0.19, "paddingOuter": 0.094}},
                    "y": {"field": "prot", "type": "nominal", "axis": null},
                    "opacity": {"field": "dens", "type": "quantitative", "scale": {"domain": [0,1], "range": [0,0.92]}, "legend": null}}}
    ]
  },
  {
    "width": 150, "height": 38,
    "layer": [
      {"data": {"name": "blot"}, "transform": [{"filter": "datum.p=='f' && datum.grp=='WT Sham' && datum.ins=='-'"}],
       "mark": {"type": "rect", "fill": "#e6e6e6", "stroke": "#111", "strokeWidth": 1.5},
       "encoding": {"y": {"field": "prot", "type": "nominal", "scale": {"domain": ["pAkt","Akt"], "paddingInner": 0.12, "paddingOuter": 0}, "axis": null}}},
      {"data": {"name": "blot"}, "transform": [{"filter": "datum.p=='f'"}],
       "mark": {"type": "rect", "fill": "#111", "cornerRadius": 3.5, "width": {"band": 1.45}, "height": {"band": 0.48}},
       "encoding": {"x": {"field": "grp", "type": "nominal", "scale": {"domain": ["WT Sham","WT HS","KO Sham","KO HS"], "paddingInner": 0.16, "paddingOuter": 0.065}, "axis": null},
                    "xOffset": {"field": "ins", "type": "nominal", "scale": {"type": "band", "domain": ["-","+"], "paddingInner": 0.19, "paddingOuter": 0.094}},
                    "y": {"field": "prot", "type": "nominal", "axis": null},
                    "opacity": {"field": "dens", "type": "quantitative", "scale": {"domain": [0,1], "range": [0,0.92]}, "legend": null}}}
    ]
  },
  {
    "width": 151, "height": 179,
    "layer": [
      {"data": {"name": "bars"}, "transform": [{"filter": "datum.p=='d'"}],
       "mark": {"type": "bar", "stroke": "#111", "strokeWidth": 1.5},
       "encoding": {
         "x": {"field": "grp", "type": "nominal", "scale": {"domain": ["WT Sham","WT HS","KO Sham","KO HS"], "paddingInner": 0.16, "paddingOuter": 0.065}, "axis": {"title": null, "labelAngle": -45, "labelAlign": "right", "labelBaseline": "top", "labelPadding": 21, "labelOffset": -4, "labelFontSize": 19, "labelExpr": "indexof(datum.value,'Sham')>=0 ? 'Sham' : 'HS'"}},
         "xOffset": {"field": "ins", "type": "nominal", "scale": {"type": "band", "domain": ["-","+"], "paddingInner": 0.19, "paddingOuter": 0.094}},
         "y": {"field": "m", "type": "quantitative", "scale": {"domain": [0,125], "nice": false}, "axis": {"title": "pAktˢ⁴⁷³/Akt", "values": [0,25,50,75,100,125], "labelExpr": "(datum.value==0 || datum.value==50 || datum.value==100) ? datum.label : ''", "labelFontSize": 19, "titleFontSize": 19, "titlePadding": 4}},
         "fill": {"condition": [
           {"test": "datum.grp=='WT HS'", "value": {"gradient": "linear", "x1": 0, "x2": 1, "y1": 0, "y2": 0, "stops": [{"offset":0,"color":"#000"},{"offset":0.167,"color":"#000"},{"offset":0.167,"color":"#fff"},{"offset":0.333,"color":"#fff"},{"offset":0.333,"color":"#000"},{"offset":0.5,"color":"#000"},{"offset":0.5,"color":"#fff"},{"offset":0.667,"color":"#fff"},{"offset":0.667,"color":"#000"},{"offset":0.833,"color":"#000"},{"offset":0.833,"color":"#fff"},{"offset":1,"color":"#fff"}]}},
           {"test": "datum.grp=='KO HS'", "value": {"gradient": "linear", "x1": 0, "x2": 1, "y1": 0, "y2": 0, "stops": [{"offset":0,"color":"#f00"},{"offset":0.167,"color":"#f00"},{"offset":0.167,"color":"#fff"},{"offset":0.333,"color":"#fff"},{"offset":0.333,"color":"#f00"},{"offset":0.5,"color":"#f00"},{"offset":0.5,"color":"#fff"},{"offset":0.667,"color":"#fff"},{"offset":0.667,"color":"#f00"},{"offset":0.833,"color":"#f00"},{"offset":0.833,"color":"#fff"},{"offset":1,"color":"#fff"}]}},
           {"test": "datum.grp=='KO Sham'", "value": "#ff0000"}], "value": "#000000"}}},
      {"data": {"name": "bars"}, "transform": [{"filter": "datum.p=='d'"}],
       "mark": {"type": "rule", "color": "#333", "strokeWidth": 1.5},
       "encoding": {"x": {"field": "grp", "type": "nominal", "title": null}, "xOffset": {"field": "ins", "type": "nominal"}, "y": {"field": "m", "type": "quantitative"}, "y2": {"field": "hi"}}},
      {"data": {"name": "bars"}, "transform": [{"filter": "datum.p=='d'"}],
       "mark": {"type": "tick", "color": "#333", "size": 8, "thickness": 1.5},
       "encoding": {"x": {"field": "grp", "type": "nominal", "title": null}, "xOffset": {"field": "ins", "type": "nominal"}, "y": {"field": "hi", "type": "quantitative"}}},
      {"data": {"name": "bbrk"}, "transform": [{"filter": "datum.p=='d'"}],
       "mark": {"type": "line", "color": "#333", "strokeWidth": 1.3, "strokeJoin": "miter"},
       "encoding": {"x": {"field": "grp", "type": "nominal", "title": null}, "xOffset": {"field": "ins", "type": "nominal"}, "y": {"field": "y", "type": "quantitative"}, "detail": {"field": "id", "type": "nominal"}, "order": {"field": "o", "type": "quantitative"}}},
      {"data": {"name": "bsig"}, "transform": [{"filter": "datum.p=='d' && datum.k=='c'"}],
       "mark": {"type": "text", "fontSize": 15, "baseline": "alphabetic", "dy": 3},
       "encoding": {"x": {"field": "grp", "type": "nominal", "title": null}, "y": {"field": "y", "type": "quantitative"}, "text": {"field": "t"}}},
      {"data": {"name": "bsig"}, "transform": [{"filter": "datum.p=='d' && datum.k=='n'"}],
       "mark": {"type": "text", "fontSize": 15, "baseline": "alphabetic", "dy": -4},
       "encoding": {"x": {"field": "grp", "type": "nominal", "title": null}, "y": {"field": "y", "type": "quantitative"}, "text": {"field": "t"}}},
      {"data": {"name": "bsig"}, "transform": [{"filter": "datum.p=='d' && datum.k=='o'"}],
       "mark": {"type": "text", "fontSize": 15, "baseline": "alphabetic", "dy": 3},
       "encoding": {"x": {"field": "grp", "type": "nominal", "title": null}, "xOffset": {"field": "ins", "type": "nominal"}, "y": {"field": "y", "type": "quantitative"}, "text": {"field": "t"}}},
      {"data": {"name": "bars"}, "transform": [{"filter": "datum.p=='d'"}],
       "mark": {"type": "text", "fontSize": 20, "baseline": "middle"},
       "encoding": {"x": {"field": "grp", "type": "nominal", "title": null}, "xOffset": {"field": "ins", "type": "nominal"}, "y": {"datum": -14, "type": "quantitative"}, "text": {"field": "ins"}}},
      {"data": {"name": "grps"},
       "mark": {"type": "rule", "color": "#333", "strokeWidth": 1.3},
       "encoding": {"x": {"field": "grp", "type": "nominal", "bandPosition": 0.12, "title": null}, "x2": {"field": "grp", "bandPosition": 0.9}, "y": {"datum": -21, "type": "quantitative"}}},
      {"data": {"name": "bars"}, "transform": [{"filter": "datum.p=='d' && datum.grp=='WT Sham' && datum.ins=='-'"}],
       "mark": {"type": "text", "text": "Insulin", "fontSize": 19, "baseline": "middle", "align": "right", "dx": -7},
       "encoding": {"x": {"field": "grp", "type": "nominal", "title": null}, "xOffset": {"field": "ins", "type": "nominal"}, "y": {"datum": -14, "type": "quantitative"}}}
    ]
  },
  {
    "width": 150, "height": 179,
    "layer": [
      {"data": {"name": "bars"}, "transform": [{"filter": "datum.p=='e'"}],
       "mark": {"type": "bar", "stroke": "#111", "strokeWidth": 1.5},
       "encoding": {
         "x": {"field": "grp", "type": "nominal", "scale": {"domain": ["WT Sham","WT HS","KO Sham","KO HS"], "paddingInner": 0.16, "paddingOuter": 0.065}, "axis": {"title": null, "labelAngle": -45, "labelAlign": "right", "labelBaseline": "top", "labelPadding": 21, "labelOffset": -4, "labelFontSize": 19, "labelExpr": "indexof(datum.value,'Sham')>=0 ? 'Sham' : 'HS'"}},
         "xOffset": {"field": "ins", "type": "nominal", "scale": {"type": "band", "domain": ["-","+"], "paddingInner": 0.19, "paddingOuter": 0.094}},
         "y": {"field": "m", "type": "quantitative", "scale": {"domain": [0,125], "nice": false}, "axis": {"title": null, "values": [0,25,50,75,100,125], "labelExpr": "(datum.value==0 || datum.value==50 || datum.value==100) ? datum.label : ''", "labelFontSize": 19}},
         "fill": {"condition": [
           {"test": "datum.grp=='WT HS'", "value": {"gradient": "linear", "x1": 0, "x2": 1, "y1": 0, "y2": 0, "stops": [{"offset":0,"color":"#000"},{"offset":0.167,"color":"#000"},{"offset":0.167,"color":"#fff"},{"offset":0.333,"color":"#fff"},{"offset":0.333,"color":"#000"},{"offset":0.5,"color":"#000"},{"offset":0.5,"color":"#fff"},{"offset":0.667,"color":"#fff"},{"offset":0.667,"color":"#000"},{"offset":0.833,"color":"#000"},{"offset":0.833,"color":"#fff"},{"offset":1,"color":"#fff"}]}},
           {"test": "datum.grp=='KO HS'", "value": {"gradient": "linear", "x1": 0, "x2": 1, "y1": 0, "y2": 0, "stops": [{"offset":0,"color":"#f00"},{"offset":0.167,"color":"#f00"},{"offset":0.167,"color":"#fff"},{"offset":0.333,"color":"#fff"},{"offset":0.333,"color":"#f00"},{"offset":0.5,"color":"#f00"},{"offset":0.5,"color":"#fff"},{"offset":0.667,"color":"#fff"},{"offset":0.667,"color":"#f00"},{"offset":0.833,"color":"#f00"},{"offset":0.833,"color":"#fff"},{"offset":1,"color":"#fff"}]}},
           {"test": "datum.grp=='KO Sham'", "value": "#ff0000"}], "value": "#000000"}}},
      {"data": {"name": "bars"}, "transform": [{"filter": "datum.p=='e'"}],
       "mark": {"type": "rule", "color": "#333", "strokeWidth": 1.5},
       "encoding": {"x": {"field": "grp", "type": "nominal", "title": null}, "xOffset": {"field": "ins", "type": "nominal"}, "y": {"field": "m", "type": "quantitative"}, "y2": {"field": "hi"}}},
      {"data": {"name": "bars"}, "transform": [{"filter": "datum.p=='e'"}],
       "mark": {"type": "tick", "color": "#333", "size": 8, "thickness": 1.5},
       "encoding": {"x": {"field": "grp", "type": "nominal", "title": null}, "xOffset": {"field": "ins", "type": "nominal"}, "y": {"field": "hi", "type": "quantitative"}}},
      {"data": {"name": "bbrk"}, "transform": [{"filter": "datum.p=='e'"}],
       "mark": {"type": "line", "color": "#333", "strokeWidth": 1.3, "strokeJoin": "miter"},
       "encoding": {"x": {"field": "grp", "type": "nominal", "title": null}, "xOffset": {"field": "ins", "type": "nominal"}, "y": {"field": "y", "type": "quantitative"}, "detail": {"field": "id", "type": "nominal"}, "order": {"field": "o", "type": "quantitative"}}},
      {"data": {"name": "bsig"}, "transform": [{"filter": "datum.p=='e' && datum.k=='c'"}],
       "mark": {"type": "text", "fontSize": 15, "baseline": "alphabetic", "dy": 3},
       "encoding": {"x": {"field": "grp", "type": "nominal", "title": null}, "y": {"field": "y", "type": "quantitative"}, "text": {"field": "t"}}},
      {"data": {"name": "bars"}, "transform": [{"filter": "datum.p=='e'"}],
       "mark": {"type": "text", "fontSize": 20, "baseline": "middle"},
       "encoding": {"x": {"field": "grp", "type": "nominal", "title": null}, "xOffset": {"field": "ins", "type": "nominal"}, "y": {"datum": -14, "type": "quantitative"}, "text": {"field": "ins"}}},
      {"data": {"name": "grps"},
       "mark": {"type": "rule", "color": "#333", "strokeWidth": 1.3},
       "encoding": {"x": {"field": "grp", "type": "nominal", "bandPosition": 0.12, "title": null}, "x2": {"field": "grp", "bandPosition": 0.9}, "y": {"datum": -21, "type": "quantitative"}}}
    ]
  },
  {
    "width": 150, "height": 179,
    "layer": [
      {"data": {"name": "bars"}, "transform": [{"filter": "datum.p=='f'"}],
       "mark": {"type": "bar", "stroke": "#111", "strokeWidth": 1.5},
       "encoding": {
         "x": {"field": "grp", "type": "nominal", "scale": {"domain": ["WT Sham","WT HS","KO Sham","KO HS"], "paddingInner": 0.16, "paddingOuter": 0.065}, "axis": {"title": null, "labelAngle": -45, "labelAlign": "right", "labelBaseline": "top", "labelPadding": 21, "labelOffset": -4, "labelFontSize": 19, "labelExpr": "indexof(datum.value,'Sham')>=0 ? 'Sham' : 'HS'"}},
         "xOffset": {"field": "ins", "type": "nominal", "scale": {"type": "band", "domain": ["-","+"], "paddingInner": 0.19, "paddingOuter": 0.094}},
         "y": {"field": "m", "type": "quantitative", "scale": {"domain": [0,125], "nice": false}, "axis": {"title": null, "values": [0,25,50,75,100,125], "labelExpr": "(datum.value==0 || datum.value==50 || datum.value==100) ? datum.label : ''", "labelFontSize": 19}},
         "fill": {"condition": [
           {"test": "datum.grp=='WT HS'", "value": {"gradient": "linear", "x1": 0, "x2": 1, "y1": 0, "y2": 0, "stops": [{"offset":0,"color":"#000"},{"offset":0.167,"color":"#000"},{"offset":0.167,"color":"#fff"},{"offset":0.333,"color":"#fff"},{"offset":0.333,"color":"#000"},{"offset":0.5,"color":"#000"},{"offset":0.5,"color":"#fff"},{"offset":0.667,"color":"#fff"},{"offset":0.667,"color":"#000"},{"offset":0.833,"color":"#000"},{"offset":0.833,"color":"#fff"},{"offset":1,"color":"#fff"}]}},
           {"test": "datum.grp=='KO HS'", "value": {"gradient": "linear", "x1": 0, "x2": 1, "y1": 0, "y2": 0, "stops": [{"offset":0,"color":"#f00"},{"offset":0.167,"color":"#f00"},{"offset":0.167,"color":"#fff"},{"offset":0.333,"color":"#fff"},{"offset":0.333,"color":"#f00"},{"offset":0.5,"color":"#f00"},{"offset":0.5,"color":"#fff"},{"offset":0.667,"color":"#fff"},{"offset":0.667,"color":"#f00"},{"offset":0.833,"color":"#f00"},{"offset":0.833,"color":"#fff"},{"offset":1,"color":"#fff"}]}},
           {"test": "datum.grp=='KO Sham'", "value": "#ff0000"}], "value": "#000000"}}},
      {"data": {"name": "bars"}, "transform": [{"filter": "datum.p=='f'"}],
       "mark": {"type": "rule", "color": "#333", "strokeWidth": 1.5},
       "encoding": {"x": {"field": "grp", "type": "nominal", "title": null}, "xOffset": {"field": "ins", "type": "nominal"}, "y": {"field": "m", "type": "quantitative"}, "y2": {"field": "hi"}}},
      {"data": {"name": "bars"}, "transform": [{"filter": "datum.p=='f'"}],
       "mark": {"type": "tick", "color": "#333", "size": 8, "thickness": 1.5},
       "encoding": {"x": {"field": "grp", "type": "nominal", "title": null}, "xOffset": {"field": "ins", "type": "nominal"}, "y": {"field": "hi", "type": "quantitative"}}},
      {"data": {"name": "bbrk"}, "transform": [{"filter": "datum.p=='f'"}],
       "mark": {"type": "line", "color": "#333", "strokeWidth": 1.3, "strokeJoin": "miter"},
       "encoding": {"x": {"field": "grp", "type": "nominal", "title": null}, "xOffset": {"field": "ins", "type": "nominal"}, "y": {"field": "y", "type": "quantitative"}, "detail": {"field": "id", "type": "nominal"}, "order": {"field": "o", "type": "quantitative"}}},
      {"data": {"name": "bsig"}, "transform": [{"filter": "datum.p=='f' && datum.k=='c'"}],
       "mark": {"type": "text", "fontSize": 15, "baseline": "alphabetic", "dy": 3},
       "encoding": {"x": {"field": "grp", "type": "nominal", "title": null}, "y": {"field": "y", "type": "quantitative"}, "text": {"field": "t"}}},
      {"data": {"name": "bsig"}, "transform": [{"filter": "datum.p=='f' && datum.k=='o'"}],
       "mark": {"type": "text", "fontSize": 15, "baseline": "alphabetic", "dy": 3},
       "encoding": {"x": {"field": "grp", "type": "nominal", "title": null}, "xOffset": {"field": "ins", "type": "nominal"}, "y": {"field": "y", "type": "quantitative"}, "text": {"field": "t"}}},
      {"data": {"name": "bars"}, "transform": [{"filter": "datum.p=='f'"}],
       "mark": {"type": "text", "fontSize": 20, "baseline": "middle"},
       "encoding": {"x": {"field": "grp", "type": "nominal", "title": null}, "xOffset": {"field": "ins", "type": "nominal"}, "y": {"datum": -14, "type": "quantitative"}, "text": {"field": "ins"}}},
      {"data": {"name": "grps"},
       "mark": {"type": "rule", "color": "#333", "strokeWidth": 1.3},
       "encoding": {"x": {"field": "grp", "type": "nominal", "bandPosition": 0.12, "title": null}, "x2": {"field": "grp", "bandPosition": 0.9}, "y": {"datum": -21, "type": "quantitative"}}}
    ]
  }
]
}
